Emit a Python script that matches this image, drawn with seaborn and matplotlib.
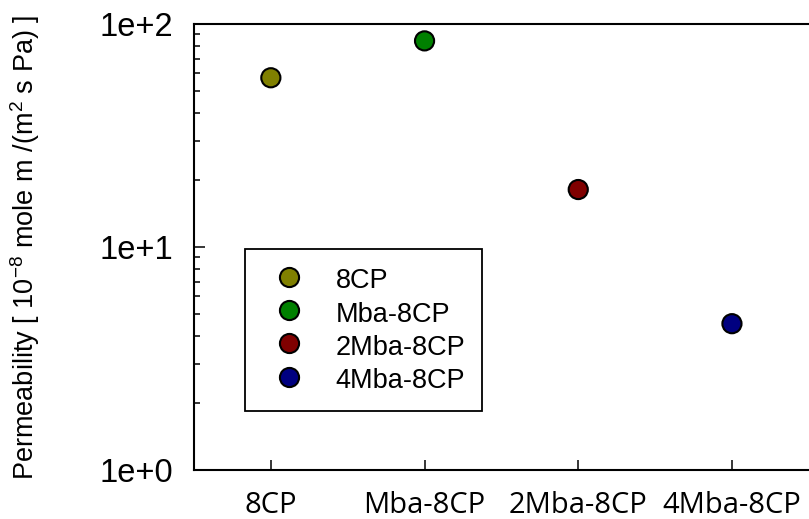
import matplotlib
matplotlib.use("Agg")
import matplotlib.pyplot as plt
from matplotlib.lines import Line2D
from matplotlib.ticker import FixedLocator, LogLocator, NullFormatter, FixedFormatter
import seaborn as sns
import pandas as pd

# Membrane samples and their permeability (10^-8 mole m / (m^2 s Pa))
samples = ["8CP", "Mba-8CP", "2Mba-8CP", "4Mba-8CP"]
permeability = [57.4, 84.0, 18.1, 4.53]
colors = ["#808000", "#008000", "#800000", "#000080"]
ytick_values = [1, 10, 100]
ytick_labels = ["1e+0", "1e+1", "1e+2"]

sns.set_theme(style="white")
plt.rcParams["font.family"] = ["Liberation Sans", "DejaVu Sans"]
plt.rcParams["text.color"] = "black"
plt.rcParams["axes.labelcolor"] = "black"
plt.rcParams["xtick.color"] = "black"
plt.rcParams["ytick.color"] = "black"
plt.rcParams["mathtext.fontset"] = "custom"
plt.rcParams["mathtext.rm"] = "Liberation Sans"
plt.rcParams["mathtext.it"] = "Liberation Sans:italic"
plt.rcParams["mathtext.bf"] = "Liberation Sans:bold"

W, H = 809, 519
fig = plt.figure(figsize=(W / 100, H / 100), dpi=100)
left_px, right_px, top_px, bottom_px = 194, 808.8, 24, 470
ax = fig.add_axes([left_px / W, 1 - bottom_px / H,
                   (right_px - left_px) / W, (bottom_px - top_px) / H])

df = pd.DataFrame({"sample": samples, "perm": permeability})
palette = dict(zip(samples, colors))
marker_s = 190
sns.scatterplot(data=df, x="sample", y="perm", hue="sample", palette=palette,
                s=marker_s, edgecolor="black", linewidth=1.5, legend=False,
                ax=ax, zorder=3, clip_on=False)

ax.set_yscale("log")
ax.set_ylim(1, 100)
ax.set_xlim(-0.5, len(samples) - 0.5)

# spines
for side in ["left", "bottom", "top"]:
    ax.spines[side].set_visible(True)
    ax.spines[side].set_color("black")
    ax.spines[side].set_linewidth(1.5)
ax.spines["right"].set_visible(False)

# y axis: decades with minor ticks
ax.yaxis.set_major_locator(FixedLocator(ytick_values))
ax.yaxis.set_major_formatter(FixedFormatter(ytick_labels))
ax.yaxis.set_minor_locator(LogLocator(base=10, subs=range(2, 10)))
ax.yaxis.set_minor_formatter(NullFormatter())
ax.tick_params(axis="y", which="major", direction="in", left=True, right=False,
               length=8, width=1.1, pad=15, labelsize=23.5, colors="black")
ax.tick_params(axis="y", which="minor", direction="in", left=True, right=False,
               length=4.3, width=1.1, colors="black")

# x axis: categories
ax.set_xticks(range(len(samples)))
ax.set_xticklabels(samples, fontsize=21, fontfamily="Open Sans", color="black")
ax.tick_params(axis="x", which="major", direction="in", bottom=True, top=False,
               length=7, width=1.1, pad=15, colors="black")
ax.set_xlabel("")

ax.set_ylabel("Permeability [ 10$^{-8}$ mole m /(m$^2$ s Pa) ]", fontsize=19.5,
              color="black")
ax.yaxis.set_label_coords((42 - left_px) / (right_px - left_px), 0.5)
ax.grid(False)

# legend
handles = [Line2D([], [], linestyle="none", marker="o", markersize=marker_s ** 0.5,
                  markerfacecolor=c, markeredgecolor="black", markeredgewidth=1.5)
           for c in colors]
leg = ax.legend(handles, samples, loc="upper left",
                bbox_to_anchor=(245 / W, 1 - 249 / H), bbox_transform=fig.transFigure,
                borderaxespad=0, frameon=True, fancybox=False, fontsize=19.5,
                borderpad=0.6, handlelength=2.05, handleheight=1.2,
                handletextpad=0.7, labelspacing=0.16)
for t in leg.get_texts():
    t.set_color("black")
leg.get_frame().set_edgecolor("black")
leg.get_frame().set_linewidth(1.3)
leg.get_frame().set_facecolor("white")
leg.get_frame().set_alpha(1)

fig.savefig("out.png", dpi=100)
